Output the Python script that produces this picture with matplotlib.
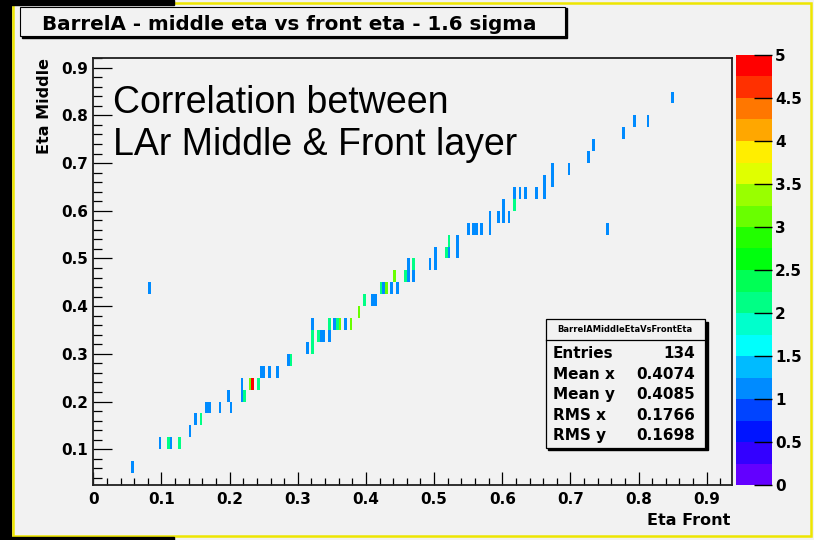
import colorsys
import numpy as np
import matplotlib
matplotlib.use("Agg")
import matplotlib.pyplot as plt
from matplotlib.colors import ListedColormap, BoundaryNorm
from matplotlib.patches import Rectangle
from matplotlib.ticker import MultipleLocator

W, H = 814, 540

# filled bins of BarrelAMiddleEtaVsFrontEta: eta front (x), eta middle (y), entries
front_eta = [0.057, 0.083,
             0.099, 0.109, 0.115, 0.125, 0.141, 0.150, 0.157,
             0.167, 0.171, 0.185, 0.201, 0.197, 0.218, 0.218, 0.222,
             0.230, 0.234, 0.243, 0.246, 0.250, 0.259, 0.270,
             0.285, 0.291, 0.313, 0.321, 0.321, 0.321, 0.329, 0.333,
             0.338, 0.347, 0.347, 0.354, 0.359, 0.362, 0.369, 0.379,
             0.390, 0.399, 0.409, 0.415, 0.422, 0.426, 0.431, 0.438,
             0.447, 0.441, 0.457, 0.463, 0.470, 0.463, 0.471, 0.493,
             0.502, 0.502, 0.521, 0.521, 0.517, 0.535, 0.535,
             0.550, 0.557, 0.562, 0.569, 0.581, 0.581, 0.594, 0.601,
             0.601, 0.609, 0.618, 0.619, 0.625, 0.633, 0.650, 0.661,
             0.663, 0.673, 0.673, 0.698, 0.726, 0.735, 0.777, 0.793,
             0.813, 0.851, 0.755]
middle_eta = [0.0625, 0.4375,
              0.1125, 0.1125, 0.1125, 0.1125, 0.1375, 0.1625, 0.1625,
              0.1875, 0.1875, 0.1875, 0.1875, 0.2125, 0.2375, 0.2125, 0.2125,
              0.2375, 0.2375, 0.2375, 0.2625, 0.2625, 0.2625, 0.2625,
              0.2875, 0.2875, 0.3125, 0.3625, 0.3375, 0.3125, 0.3375, 0.3375,
              0.3375, 0.3375, 0.3625, 0.3625, 0.3625, 0.3625, 0.3625, 0.3625,
              0.3875, 0.4125, 0.4125, 0.4125, 0.4375, 0.4375, 0.4375, 0.4375,
              0.4375, 0.4625, 0.4625, 0.4625, 0.4625, 0.4875, 0.4875, 0.4875,
              0.4875, 0.5125, 0.5375, 0.5125, 0.5125, 0.5125, 0.5375,
              0.5625, 0.5625, 0.5625, 0.5625, 0.5625, 0.5875, 0.5875, 0.5875,
              0.6125, 0.5875, 0.6125, 0.6375, 0.6375, 0.6375, 0.6375, 0.6375,
              0.6625, 0.6625, 0.6875, 0.6875, 0.7125, 0.7375, 0.7625, 0.7875,
              0.7875, 0.8375, 0.5625]
counts = [1, 1,
          1, 2, 1, 2, 1, 1, 2,
          1, 1, 1, 1, 1, 1, 1, 2,
          3, 5, 2, 1, 1, 1, 1,
          1, 2, 1, 1, 2, 2, 2, 1,
          1, 1, 2, 1, 2, 3, 1, 3,
          3, 2, 1, 1, 2, 1, 3, 1,
          1, 3, 2, 1, 1, 1, 2, 1,
          1, 1, 2, 1, 2, 1, 1,
          1, 1, 1, 1, 1, 1, 1, 1,
          1, 1, 2, 1, 1, 1, 1, 1,
          1, 1, 1, 1, 1, 1, 1, 1,
          1, 1, 1]

stat_names = ["Entries", "Mean x", "Mean y", "RMS x", "RMS y"]
stat_values = ["134", "0.4074", "0.4085", "0.1766", "0.1698"]
z_ticks = [0, 0.5, 1, 1.5, 2, 2.5, 3, 3.5, 4, 4.5, 5]

ROOT_FONT = "DejaVu Sans"
BG = "#f2f2f2"


def fx(px):
    return px / W


def fy(py):
    return 1 - py / H


def box(x0, y0, x1, y1, **kw):
    ''' Rectangle given in image pixels (y down) '''
    r = Rectangle((fx(x0), fy(y1)), fx(x1) - fx(x0), fy(y0) - fy(y1),
                  transform=fig.transFigure, **kw)
    fig.add_artist(r)
    return r


# ROOT "pretty" palette, 20 contour levels
pretty = []
for i in range(50):
    hue = 280 - (i + 1) * 280 / 50
    pretty.append(colorsys.hls_to_rgb(hue / 360, 0.5, 1.0))
pretty[-1] = (1, 0, 0)
ndiv = 20
levels_col = [pretty[int((k + 0.99) * 50 / ndiv)] for k in range(ndiv)]
cmap = ListedColormap(levels_col)
cmap.set_over(levels_col[-1])
norm = BoundaryNorm(np.linspace(0, 5, ndiv + 1), ndiv)

fig = plt.figure(figsize=(W / 100, H / 100), dpi=100, facecolor=BG)

# slide surroundings
box(0, 0, 11, 540, color="black", zorder=-10)
box(12.5, 3, 811, 535.5, fill=False, edgecolor="#eee600", lw=1.8, zorder=-5)
box(0, 0, 174, 4.5, color="black", zorder=-4)
box(0, 537, 174, 540, color="black", zorder=-4)

ax = fig.add_axes([fx(93.3), fy(485), fx(731.7) - fx(93.3), fy(57.7) - fy(485)])
ax.set_facecolor(BG)

x_edges = np.arange(0, 0.94, 0.004)
y_edges = np.arange(0.025, 0.93, 0.025)
hist, xe, ye = np.histogram2d(front_eta, middle_eta, bins=[x_edges, y_edges],
                              weights=counts)
mesh = ax.pcolormesh(xe, ye, np.ma.masked_equal(hist.T, 0), cmap=cmap, norm=norm)

ax.set_xlim(0, 0.9366)
ax.set_ylim(0.025, 0.921)
for a in (ax.xaxis, ax.yaxis):
    a.set_major_locator(MultipleLocator(0.1))
    a.set_minor_locator(MultipleLocator(0.02))
ax.xaxis.set_major_formatter(lambda v, p: f"{v:g}")
ax.yaxis.set_major_formatter(lambda v, p: f"{v:g}")
ax.tick_params(axis="both", which="both", direction="in", top=False, right=False,
               width=0.9, color="black")
ax.tick_params(axis="x", which="major", length=9.6, pad=4.8)
ax.tick_params(axis="x", which="minor", length=4.8)
ax.tick_params(axis="y", which="major", length=13.9, pad=3.6)
ax.tick_params(axis="y", which="minor", length=6.7)
for lab in ax.get_xticklabels() + ax.get_yticklabels():
    lab.set_fontfamily(ROOT_FONT)
    lab.set_fontweight("bold")
    lab.set_fontsize(11)
for s in ax.spines.values():
    s.set_linewidth(1.3)
    s.set_color("#202020")

# palette axis
cax = fig.add_axes([fx(736), fy(485), fx(771.7) - fx(736), fy(55) - fy(485)])
cb = fig.colorbar(mesh, cax=cax)
cb.outline.set_visible(False)
cb.set_ticks(z_ticks, labels=[f"{v:g}" for v in z_ticks])
cax.minorticks_off()
cax.tick_params(direction="in", length=13, width=1, color="black", pad=2.4)
for lab in cax.get_yticklabels():
    lab.set_fontfamily(ROOT_FONT)
    lab.set_fontweight("bold")
    lab.set_fontsize(11)

# axis titles
fig.text(fx(44.7), fy(58.3), "Eta Middle", rotation=90, ha="center", va="top",
         family=ROOT_FONT, weight="bold", fontsize=11.5)
fig.text(fx(730), fy(520.5), "Eta Front", ha="right", va="center",
         family=ROOT_FONT, weight="bold", fontsize=11.5)

# title pave
box(21.7, 8.5, 567, 38, color="black", zorder=5)
box(19.7, 6.5, 565, 36, facecolor=BG, edgecolor="black", lw=0.8, zorder=6)
fig.text(fx(41.5), fy(30.5), "BarrelA - middle eta vs front eta - 1.6 sigma",
         ha="left", va="baseline", family=ROOT_FONT, weight="bold",
         fontsize=14.3, zorder=7)

# stats pave
box(548.2, 321.8, 707.5, 450.2, color="black", zorder=5)
box(545.7, 319.3, 705, 447.7, facecolor=BG, edgecolor="black", lw=0.9, zorder=6)
fig.add_artist(plt.Line2D([fx(545.7), fx(705)], [fy(340), fy(340)],
                          transform=fig.transFigure, color="black", lw=0.9, zorder=7))
fig.text(fx(625.3), fy(329.5), "BarrelAMiddleEtaVsFrontEta", ha="center",
         va="center", family=ROOT_FONT, weight="bold", fontsize=6, zorder=7)
for i, (name, val) in enumerate(zip(stat_names, stat_values)):
    yy = 354 + i * 20.4
    fig.text(fx(552.7), fy(yy), name, ha="left", va="center", family=ROOT_FONT,
             weight="bold", fontsize=11, zorder=7)
    fig.text(fx(695), fy(yy), val, ha="right", va="center", family=ROOT_FONT,
             weight="bold", fontsize=11, zorder=7)

# slide annotation
fig.text(fx(113), fy(85), "Correlation between\nLAr Middle & Front layer",
         ha="left", va="top", family="Liberation Sans", fontsize=27,
         linespacing=1.2, zorder=8)

fig.savefig("out.png", dpi=100, facecolor=BG)
